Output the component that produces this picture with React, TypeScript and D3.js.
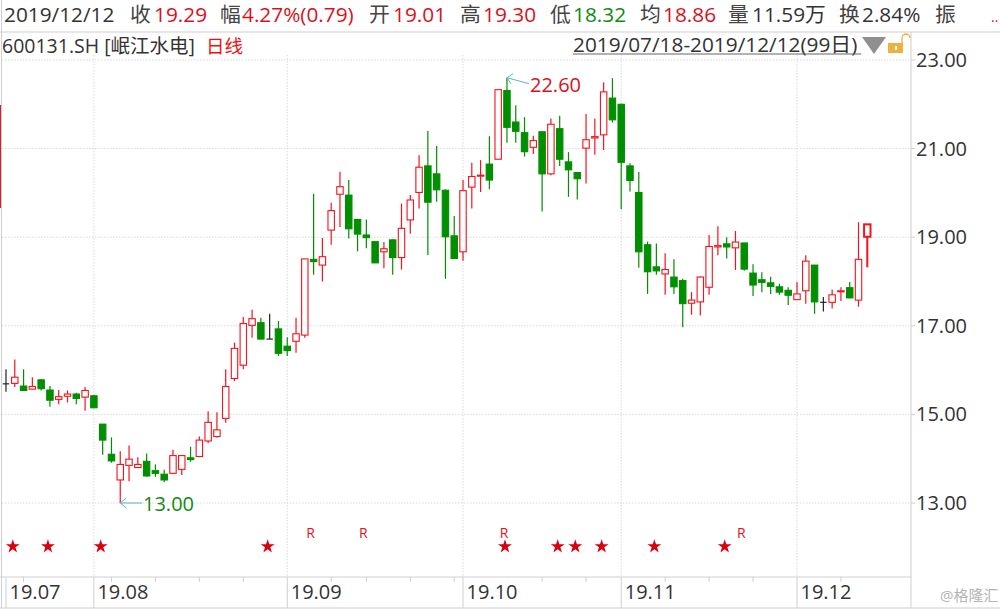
import React from 'react';
import * as d3 from 'd3';

const opens = [15.69, 15.70, 15.64, 15.57, 15.78, 15.55, 15.34, 15.41, 15.46, 15.39, 15.42, 14.78, 14.10, 13.52, 13.85, 13.80, 13.94, 13.73, 13.65, 13.67, 13.76, 14.02, 14.05, 14.40, 14.50, 14.91, 15.81, 16.11, 17.01, 17.07, 16.70, 16.93, 16.54, 16.65, 16.79, 18.50, 18.37, 19.16, 19.97, 19.95, 19.40, 19.05, 18.90, 18.67, 18.94, 18.54, 19.39, 20.01, 20.61, 20.43, 20.06, 19.03, 18.67, 20.13, 20.38, 20.65, 20.76, 22.31, 21.60, 21.36, 21.03, 21.38, 20.43, 21.45, 20.70, 20.46, 21.01, 21.24, 21.31, 22.14, 22.00, 20.61, 20.01, 18.83, 18.33, 18.17, 18.10, 18.02, 17.51, 17.54, 17.87, 18.78, 18.85, 18.76, 18.87, 18.19, 18.04, 17.97, 17.88, 17.80, 17.59, 17.79, 18.37, 17.53, 17.53, 17.77, 17.86, 17.58, 19.01];
const closes = [15.69, 15.84, 15.54, 15.63, 15.58, 15.32, 15.40, 15.46, 15.36, 15.54, 15.15, 14.42, 13.95, 13.87, 13.99, 13.87, 13.61, 13.67, 13.52, 14.07, 14.07, 13.98, 14.42, 14.82, 14.65, 15.63, 16.49, 17.05, 17.16, 16.70, 16.70, 16.38, 16.44, 16.82, 18.51, 18.45, 18.56, 19.60, 20.14, 19.19, 19.07, 18.99, 18.42, 18.74, 18.54, 19.20, 19.84, 20.58, 19.79, 20.07, 19.01, 18.52, 20.05, 20.37, 20.40, 20.29, 22.33, 21.48, 21.39, 20.93, 21.18, 20.43, 21.55, 20.76, 20.52, 20.32, 21.20, 21.27, 22.28, 21.65, 20.69, 20.28, 18.67, 18.22, 18.24, 18.27, 17.88, 17.50, 17.58, 18.10, 18.79, 18.81, 18.78, 18.89, 18.28, 17.92, 17.98, 17.89, 17.76, 17.69, 17.72, 18.46, 17.54, 17.53, 17.70, 17.79, 17.63, 18.50, 19.29];
const highs = [16.02, 16.24, 16.02, 15.84, 15.80, 15.64, 15.55, 15.54, 15.49, 15.62, 15.44, 14.78, 14.48, 14.17, 14.30, 14.03, 14.12, 13.87, 13.75, 14.20, 14.07, 14.27, 14.50, 15.07, 15.05, 16.02, 16.62, 17.20, 17.36, 17.18, 17.27, 17.11, 16.74, 17.18, 18.51, 19.98, 18.98, 19.78, 20.48, 20.29, 19.40, 19.40, 18.90, 18.89, 18.95, 19.76, 19.95, 20.85, 21.40, 21.06, 20.08, 19.48, 20.29, 20.68, 20.74, 21.28, 22.33, 22.60, 21.98, 21.71, 21.29, 21.38, 21.68, 21.74, 20.92, 20.47, 21.78, 21.68, 22.50, 22.59, 22.01, 20.67, 20.47, 18.90, 18.86, 18.64, 18.50, 18.06, 17.76, 18.12, 19.05, 19.25, 19.00, 19.14, 18.87, 18.39, 18.21, 18.11, 17.95, 17.87, 17.99, 18.59, 18.37, 17.65, 17.82, 17.87, 17.99, 19.34, 19.30];
const lows = [15.51, 15.62, 15.54, 15.57, 15.54, 15.17, 15.23, 15.27, 15.23, 15.08, 15.14, 14.09, 13.91, 13.00, 13.49, 13.80, 13.59, 13.59, 13.47, 13.65, 13.63, 13.93, 14.05, 14.35, 14.48, 14.81, 15.75, 16.02, 16.73, 16.70, 16.70, 16.32, 16.32, 16.39, 16.73, 18.15, 18.00, 18.83, 19.23, 18.97, 18.68, 18.75, 18.42, 18.30, 18.15, 18.27, 19.08, 19.65, 18.60, 19.80, 18.06, 18.52, 18.47, 19.65, 20.02, 20.08, 20.76, 21.13, 21.13, 20.82, 20.88, 19.58, 20.40, 20.61, 19.91, 19.85, 20.21, 20.86, 20.97, 21.59, 19.63, 20.03, 18.31, 17.72, 18.15, 17.70, 17.72, 16.97, 17.25, 17.23, 17.70, 18.59, 18.52, 18.26, 18.24, 17.67, 17.76, 17.72, 17.70, 17.47, 17.58, 17.50, 17.27, 17.32, 17.39, 17.56, 17.62, 17.43, 18.32];

const priceTicks = [23, 21, 19, 17, 15, 13];
const monthLabels = ['19.07', '19.08', '19.09', '19.10', '19.11', '19.12'];
const monthStarts = [0, 10, 32, 52, 70, 90];
const weekTicks = [2, 12, 17, 22, 27, 37, 41, 46, 51, 61, 66, 75, 80, 85, 95];
const starDays = [1, 5, 11, 30, 57, 63, 65, 68, 74, 82];
const rDays = [35, 41, 57, 84];

const headerItems: [string, number, string][] = [
  ['2019/12/12', 4, '#333'],
  ['收', 130, '#444'],
  ['19.29', 154, '#d8121c'],
  ['幅', 220, '#444'],
  ['4.27%(0.79)', 242, '#d8121c'],
  ['开', 369, '#444'],
  ['19.01', 393, '#d8121c'],
  ['高', 460, '#444'],
  ['19.30', 483, '#d8121c'],
  ['低', 550, '#444'],
  ['18.32', 573, '#108a10'],
  ['均', 640, '#444'],
  ['18.86', 663, '#d8121c'],
  ['量', 728, '#444'],
  ['11.59万', 752, '#333'],
  ['换', 839, '#444'],
  ['2.84%', 862, '#333'],
  ['振', 935, '#444'],
];

const font = '"Open Sans", "Noto Sans CJK SC", sans-serif';
const red = '#f5121c';
const green = '#008f00';
const lineGrey = '#cfcfcf';
const gridGrey = '#d9d9d9';

const x = d3.scaleLinear().domain([0, 98]).range([6, 867.3]);
const y = d3.scaleLinear().domain([13, 23]).range([503, 60]);
const starPath = d3.symbol(d3.symbolStar, 60)() as string;

export default function App() {
  const bodyW = 6.4;
  return (
    <svg
      width={1000}
      height={611}
      style={{ position: 'fixed', left: 0, top: 0, background: '#fff', fontFamily: font }}
    >
      {/* frame */}
      <line x1={0} x2={1000} y1={32} y2={32} stroke={lineGrey} />
      <line x1={1.5} x2={1.5} y1={0} y2={608} stroke={lineGrey} />
      <line x1={911} x2={911} y1={32} y2={608} stroke={lineGrey} />
      <line x1={0} x2={911} y1={577} y2={577} stroke={lineGrey} />
      <line x1={0} x2={1000} y1={608} y2={608} stroke={lineGrey} />
      <line x1={0.5} x2={0.5} y1={105} y2={208} stroke="#d02020" />

      {/* grid */}
      {priceTicks.map((t) => (
        <g key={t}>
          <line x1={2} x2={911} y1={y(t)} y2={y(t)} stroke={gridGrey} strokeDasharray="1.5 1.5" />
          <line x1={911} x2={915} y1={y(t)} y2={y(t)} stroke={lineGrey} />
          <text x={916} y={y(t) + 7} fontSize={20} fill="#333">
            {t.toFixed(2)}
          </text>
        </g>
      ))}
      {monthStarts.slice(1).map((d) => (
        <line key={d} x1={x(d)} x2={x(d)} y1={55} y2={577} stroke={gridGrey} strokeDasharray="1.5 1.5" />
      ))}

      {/* x axis */}
      {monthStarts.map((d, i) => (
        <g key={d}>
          <line x1={x(d)} x2={x(d)} y1={577} y2={608} stroke={lineGrey} />
          <text x={x(d) + 3.5} y={599} fontSize={20} fill="#333">
            {monthLabels[i]}
          </text>
        </g>
      ))}
      {weekTicks.map((d) => (
        <line key={d} x1={x(d)} x2={x(d)} y1={577} y2={582} stroke={lineGrey} />
      ))}

      {/* candles */}
      {opens.map((o, i) => {
        const c = closes[i];
        const color = c > o ? red : c < o ? green : '#222';
        const last = i === opens.length - 1;
        const top = y(Math.max(o, c));
        const bottom = y(Math.min(o, c));
        return (
          <g key={i}>
            <line x1={x(i)} x2={x(i)} y1={y(highs[i])} y2={y(lows[i])} stroke={color} strokeWidth={last ? 2 : 1.2} />
            {c === o ? (
              <line x1={x(i) - bodyW / 2} x2={x(i) + bodyW / 2} y1={top} y2={top} stroke={color} strokeWidth={1.2} />
            ) : (
              <rect
                x={x(i) - bodyW / 2}
                y={top}
                width={bodyW}
                height={Math.max(bottom - top, 1)}
                fill={c > o ? '#fff' : green}
                stroke={color}
                strokeWidth={last ? 2 : 1.1}
              />
            )}
          </g>
        );
      })}

      {/* high / low notes */}
      <path
        d={`M${x(57) + 22},${y(22.6) + 6}L${x(57)},${y(22.6)}M${x(57) + 6},${y(22.6) - 4}L${x(57)},${y(22.6)}L${x(57) + 4},${y(22.6) + 6}`}
        fill="none"
        stroke="#5fb0cc"
      />
      <text x={530} y={92} fontSize={20} fill="#d8121c">
        22.60
      </text>
      <path
        d={`M${x(13) + 22},${y(13)}L${x(13)},${y(13)}M${x(13) + 6},${y(13) - 5}L${x(13)},${y(13)}L${x(13) + 6},${y(13) + 5}`}
        fill="none"
        stroke="#5fb0cc"
      />
      <text x={143} y={511} fontSize={20} fill="#108a10">
        13.00
      </text>

      {/* markers */}
      {starDays.map((d) => (
        <path key={d} d={starPath} transform={`translate(${x(d) - 2},546.5)`} fill="#d8000f" />
      ))}
      {rDays.map((d) => (
        <text key={d} x={x(d) - 3} y={538} fontSize={14} fontWeight={500} textAnchor="middle" fill="#e8101c">
          R
        </text>
      ))}

      {/* header */}
      {headerItems.map(([label, px, fill]) => (
        <text key={label + px} x={px} y={22} fontSize={20.8} fill={fill}>
          {label}
        </text>
      ))}
      <text x={991} y={22} fontSize={14} fill="#d8121c">
        ..
      </text>
      <text x={2} y={53} fontSize={19.5} fill="#333">
        600131.SH [岷江水电]
      </text>
      <text x={206} y={53} fontSize={18.5} fill="#f01010">
        日线
      </text>
      <text x={573} y={52} fontSize={20.8} fill="#333">
        2019/07/18-2019/12/12(99日)
      </text>
      <line x1={573} x2={861} y1={54} y2={54} stroke="#666" strokeWidth={1.2} />
      <path d="M862,37L886,37L874,54Z" fill="#8f8f8f" />
      <rect x={888} y={43} width={15} height={10} fill="#f0b040" />
      <rect x={895} y={46} width={2} height={4} fill="#fff" />
      <path d="M902,43V38A4,4 0 0 1 910,38" fill="none" stroke="#f0b040" strokeWidth={1.3} />

      <text x={940} y={601} fontSize={15} fill="#b5b5b5">
        @格隆汇
      </text>
    </svg>
  );
}
